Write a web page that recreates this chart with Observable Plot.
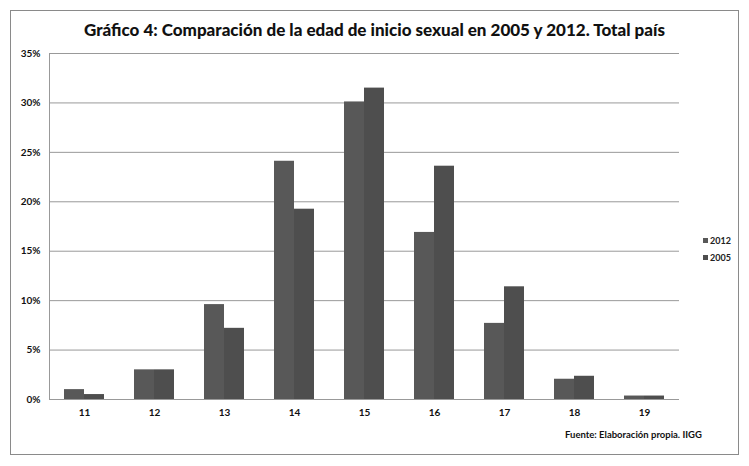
<!DOCTYPE html>
<html><head><meta charset="utf-8">
<script src="https://cdn.jsdelivr.net/npm/d3@7"></script>
<script src="https://cdn.jsdelivr.net/npm/@observablehq/plot@0.6"></script>
<style>
html,body{margin:0;padding:0;background:#fff;}
body{width:749px;height:466px;position:relative;overflow:hidden;font-family:Lato,"Open Sans",sans-serif;}
#frame{position:absolute;left:10px;top:10px;width:727px;height:443px;border:1.5px solid #8a8a8a;}
#title{position:absolute;left:0;top:19px;width:749px;text-align:center;font-weight:900;font-size:17px;color:#111;}
#chart{position:absolute;left:0;top:0;}
#legend{position:absolute;left:703px;top:232px;font-size:9px;font-weight:bold;color:#222;line-height:17px;}
#legend span.sw{display:inline-block;width:5px;height:5px;margin-right:2px;vertical-align:1px;}
#caption{position:absolute;left:565px;top:429px;font-size:9.5px;font-weight:bold;color:#111;}
</style></head>
<body>
<div id="frame"></div>
<div id="chart"></div>
<div id="title">Gráfico 4: Comparación de la edad de inicio sexual en 2005 y 2012. Total país</div>
<div id="legend"></div>
<div id="caption">Fuente: Elaboración propia. IIGG</div>
<script>
const ages = ["11","12","13","14","15","16","17","18","19"];
const series = ["2012","2005"];
const colors = ["#585858","#4e4e4e"];
const values2012 = [1.0, 3.0, 9.6, 24.1, 30.1, 16.9, 7.7, 2.05, 0.35];
const values2005 = [0.5, 3.0, 7.2, 19.25, 31.5, 23.6, 11.4, 2.35, 0.35];
const yTicks = [0,5,10,15,20,25,30,35];

const data = [];
ages.forEach((a,i)=>{
  data.push({age:a, serie:"2012", value:values2012[i]/100});
  data.push({age:a, serie:"2005", value:values2005[i]/100});
});

const chart = Plot.plot({
  width: 749, height: 466,
  marginLeft: 48, marginRight: 69, marginTop: 53, marginBottom: 67,
  style: {fontFamily: "Lato, 'Open Sans', sans-serif", fontWeight: "bold", fontSize: "9px", color: "#111"},
  fx: {domain: ages, padding: 0, label: null, axis: null},
  x: {domain: series, paddingInner: 0, paddingOuter: 0.7375, axis: null},
  y: {domain: [0, 0.35], label: null},
  color: {domain: series, range: colors},
  marks: [
    Plot.gridY(yTicks.map(d=>d/100), {stroke: "#999", strokeOpacity: 1, strokeWidth: 1}),
    Plot.barY(data, {fx: "age", x: "serie", y: "value", fill: "serie"}),
    Plot.ruleY([0], {stroke: "#999", strokeWidth: 1}),
    Plot.axisY(yTicks.map(d=>d/100), {tickFormat: d => Math.round(d*100) + "%", tickSize: 0, tickPadding: 9, fontWeight: "bold", fontSize: 10, label: null}),
    Plot.axisFx({anchor: "bottom", tickSize: 0, tickPadding: 9, fontWeight: "bold", fontSize: 10, label: null}),
    Plot.frame({anchor: "left", stroke: "#999", facet: "super"})
  ]
});
document.getElementById("chart").appendChild(chart);

const leg = document.getElementById("legend");
series.forEach((s,i)=>{
  const d = document.createElement("div");
  d.innerHTML = `<span class="sw" style="background:${colors[i]}"></span>${s}`;
  leg.appendChild(d);
});
</script>
</body></html>
